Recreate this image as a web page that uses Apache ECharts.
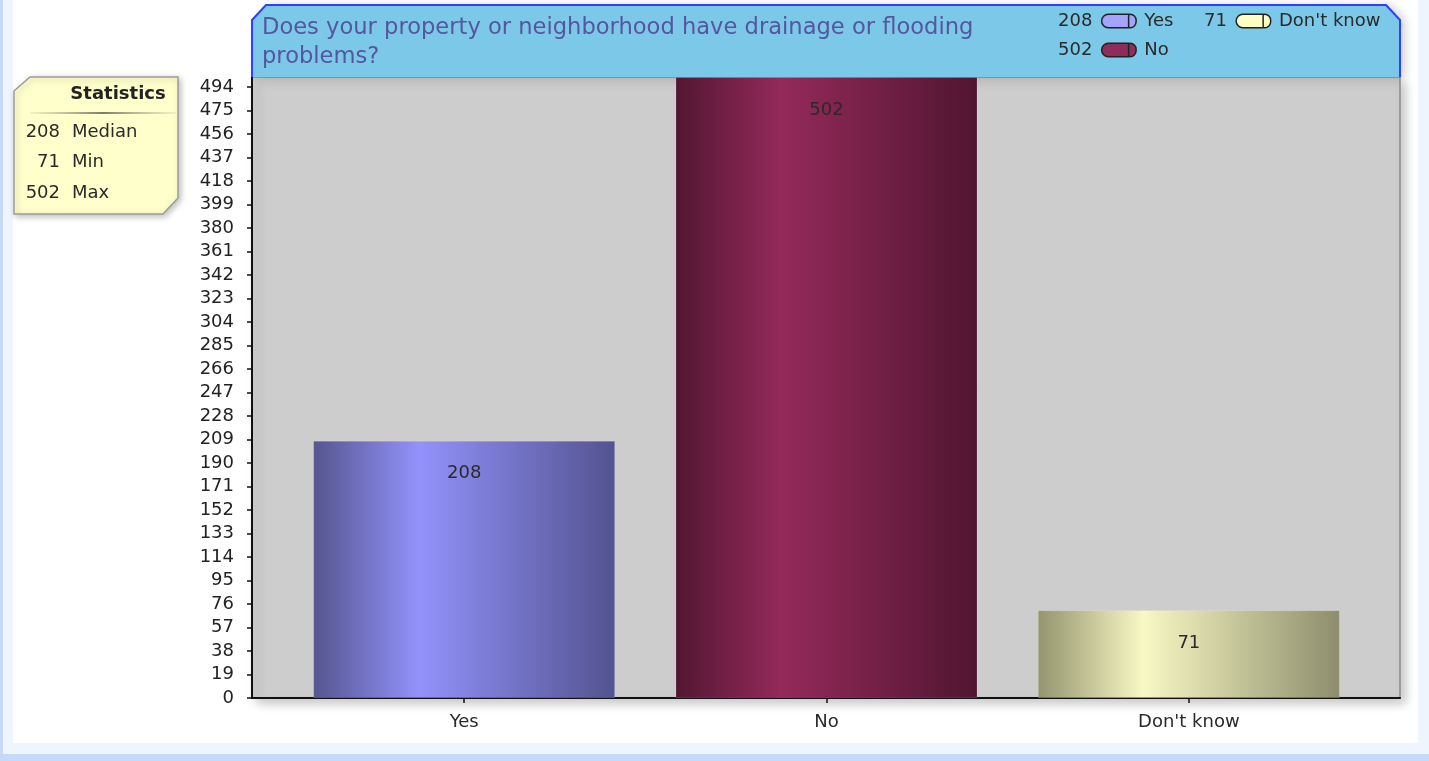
<!DOCTYPE html>
<html>
<head>
<meta charset="utf-8">
<script src="https://cdn.jsdelivr.net/npm/echarts@6/dist/echarts.min.js"></script>
<style>
  html, body { margin: 0; padding: 0; width: 1429px; height: 761px; overflow: hidden; }
  #outer { position: absolute; left: 0; top: 0; width: 1429px; height: 761px; background: #c6daf6; }
  #inner { position: absolute; left: 3px; top: 0; width: 1426px; height: 754px; background: #eff5fd; }
  #white { position: absolute; left: 13px; top: 0; width: 1405px; height: 743px; background: #ffffff; }
  #chart { position: absolute; left: 0; top: 0; width: 1429px; height: 761px; }
</style>
</head>
<body>
<div id="outer"><div id="inner"></div><div id="white"></div></div>
<div id="chart"></div>
<script>
// ---- data ----
const titleText = "Does your property or neighborhood have drainage or flooding\nproblems?";
const categories = ["Yes", "No", "Don't know"];
const values = [208, 502, 71];
const yTicks = [0, 19, 38, 57, 76, 95, 114, 133, 152, 171, 190, 209, 228, 247, 266, 285, 304, 323, 342, 361, 380, 399, 418, 437, 456, 475, 494];
const yMax = 502;
const statLabels = ["Median", "Min", "Max"];

// ---- styles ----
const FONT = "DejaVu Sans";
const FS = 18;
const barColors = [
  ["#55558f", "#9292fb", "#535390"],
  ["#521632", "#942a5a", "#501531"],
  ["#94946f", "#f8f8c4", "#8d8d6c"]
];
const pillColors = ["#a4a4ff", "#8e2c5c", "#ffffc4"];

function grad(c) {
  return new echarts.graphic.LinearGradient(0, 0, 1, 0, [
    { offset: 0, color: c[0] },
    { offset: 0.35, color: c[1] },
    { offset: 1, color: c[2] }
  ]);
}

const sorted = values.slice().sort((a, b) => a - b);
const statValues = [sorted[Math.floor(sorted.length / 2)], sorted[0], sorted[sorted.length - 1]];

const series = categories.map((name, i) => ({
  name: name,
  type: 'bar',
  xAxisIndex: 1,
  yAxisIndex: 1,
  barWidth: 302,
  barGap: '-100%',
  data: categories.map((_, j) => (j === i ? values[i] : '-')),
  itemStyle: { color: grad(barColors[i]), borderColor: 'rgba(255,255,255,0.15)', borderWidth: 1 },
  label: {
    show: true, position: 'insideTop', distance: 24,
    color: '#2a2a2a', fontFamily: FONT, fontSize: FS
  },
  z: 3
}));

const rich = {
  v: { fontFamily: FONT, fontSize: FS, color: '#2a2a2a', lineHeight: 20, padding: [0, 10, 0, 0] },
  n: { fontFamily: FONT, fontSize: FS, color: '#2a2a2a', lineHeight: 20, padding: [0, 0, 0, 9] }
};
pillColors.forEach((c, i) => {
  rich['p' + i] = { width: 27, height: 12, backgroundColor: c, borderColor: '#222', borderWidth: 1.5, borderRadius: [6, 1, 1, 6] };
  rich['c' + i] = { width: 6, height: 12, backgroundColor: c, borderColor: '#222', borderWidth: 1.5, borderRadius: [1, 6, 6, 1] };
});
function legendFmt(name) {
  const i = categories.indexOf(name);
  return '{v|' + values[i] + '}{p' + i + '|}{c' + i + '|}{n|' + name + '}';
}
const legendBase = {
  orient: 'vertical', padding: 0, itemGap: 11,
  itemWidth: 1, itemHeight: 1, itemStyle: { opacity: 0 },
  selectedMode: false, formatter: legendFmt,
  textStyle: { rich: rich, padding: 0 }
};

const statsGraphic = [
  {
    type: 'polygon', z: 10,
    shape: { points: [[30, 77], [178, 77], [178, 198], [163, 214], [14, 214], [14, 91]] },
    style: { fill: '#ffffcc', stroke: '#9c9c9c', lineWidth: 1.5, shadowBlur: 6, shadowOffsetX: 2, shadowOffsetY: 2, shadowColor: 'rgba(0,0,0,0.25)' }
  },
  {
    type: 'text', z: 11, x: 118, y: 94,
    style: { text: 'Statistics', fontFamily: FONT, fontSize: FS, fontWeight: 'bold', fill: '#222', align: 'center', verticalAlign: 'middle' }
  },
  {
    type: 'line', z: 11,
    shape: { x1: 30, y1: 113, x2: 176, y2: 113 },
    style: {
      lineWidth: 2,
      stroke: new echarts.graphic.LinearGradient(0, 0, 1, 0, [
        { offset: 0, color: 'rgba(150,150,130,0.1)' },
        { offset: 0.5, color: 'rgba(110,110,100,0.9)' },
        { offset: 1, color: 'rgba(150,150,130,0.1)' }
      ])
    }
  }
];
const statY = [132.5, 162.5, 193];
statLabels.forEach((lab, i) => {
  statsGraphic.push({
    type: 'text', z: 11, x: 60, y: statY[i],
    style: { text: String(statValues[i]), fontFamily: FONT, fontSize: FS, fill: '#2a2a2a', align: 'right', verticalAlign: 'middle' }
  });
  statsGraphic.push({
    type: 'text', z: 11, x: 72, y: statY[i],
    style: { text: lab, fontFamily: FONT, fontSize: FS, fill: '#2a2a2a', align: 'left', verticalAlign: 'middle' }
  });
});

const titleBand = [
  {
    type: 'polygon', z: 0,
    shape: { points: [[252, 20], [266, 5], [1386, 5], [1400, 20], [1400, 77], [252, 77]] },
    style: { fill: '#7cc8e8', shadowBlur: 10, shadowOffsetX: 5, shadowOffsetY: 0, shadowColor: 'rgba(0,0,0,0.18)' }
  },
  {
    type: 'polyline', z: 1,
    shape: { points: [[252, 77], [252, 20], [266, 5], [1386, 5], [1400, 20], [1400, 77]] },
    style: { stroke: '#3040ff', lineWidth: 2, fill: null }
  }
];

const chart = echarts.init(document.getElementById('chart'), null, { renderer: 'canvas' });
chart.setOption({
  backgroundColor: 'transparent',
  animation: false,
  title: {
    text: titleText, left: 262, top: 14, padding: 0,
    textStyle: { fontFamily: FONT, fontSize: 22.6, fontWeight: 'normal', color: '#5656a0', lineHeight: 29 }
  },
  legend: [
    Object.assign({}, legendBase, { data: [categories[0], categories[1]], left: 1051, top: 12 }),
    Object.assign({}, legendBase, { data: [categories[2]], left: 1197, top: 12 })
  ],
  graphic: titleBand.concat(statsGraphic),
  grid: [
    {
      left: 252, right: 29, top: 77, bottom: 63, show: true,
      backgroundColor: '#cdcdcd', borderColor: '#8c8c8c', borderWidth: 1.5,
      shadowColor: 'rgba(0,0,0,0.22)', shadowBlur: 10, shadowOffsetX: 5, shadowOffsetY: 5
    },
    { left: 283, right: 59, top: 77, bottom: 63 }
  ],
  xAxis: [
    {
      gridIndex: 0, type: 'value', min: 0, max: 1,
      axisLine: { show: true, onZero: false, lineStyle: { color: '#111', width: 2 } },
      axisTick: { show: false }, axisLabel: { show: false }, splitLine: { show: false }
    },
    {
      gridIndex: 1, type: 'category', data: categories,
      axisLine: { show: false },
      axisTick: { show: true, alignWithLabel: true, length: 5, lineStyle: { color: '#111', width: 1.5 } },
      axisLabel: { color: '#2a2a2a', fontFamily: FONT, fontSize: FS, margin: 15 },
      splitLine: { show: false }
    }
  ],
  yAxis: [
    {
      gridIndex: 0, type: 'value', min: 0, max: yMax,
      axisLine: { show: true, lineStyle: { color: '#111', width: 2 } },
      axisTick: { show: true, length: 5, customValues: yTicks, lineStyle: { color: '#111', width: 1.5 } },
      axisLabel: { customValues: yTicks, color: '#222', fontFamily: FONT, fontSize: FS, margin: 18 },
      splitLine: { show: false }
    },
    { gridIndex: 1, type: 'value', min: 0, max: yMax, show: false, splitLine: { show: false } }
  ],
  series: series
});
</script>
</body>
</html>
